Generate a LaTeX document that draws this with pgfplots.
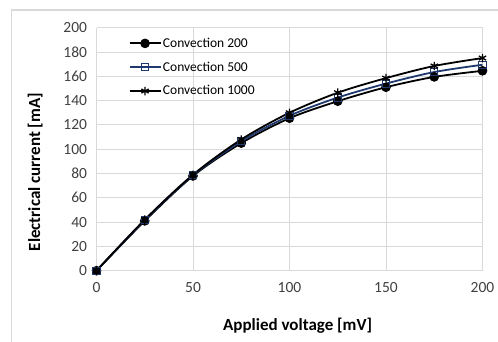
\documentclass[border=0pt]{standalone}
\usepackage{pgfplots}
\pgfplotsset{compat=1.18}
\usepackage{fontspec}
\setmainfont{Carlito}
\definecolor{gridgray}{RGB}{217,217,217}
\definecolor{navyline}{RGB}{31,56,110}
\definecolor{ticktext}{RGB}{64,64,64}
\begin{document}
\begin{tikzpicture}[x=1pt,y=1pt]
\useasboundingbox (0,0) rectangle (498,342);
\draw[gridgray, line width=1.2pt] (11.5,-2) -- (11.5,332) -- (500,332);
\begin{axis}[
  at={(96.5pt,71.3pt)}, anchor=south west,
  scale only axis, width=386pt, height=243pt,
  xmin=0, xmax=200, ymin=0, ymax=200,
  xtick={0,50,...,200}, ytick={0,20,...,200},
  grid=major,
  major grid style={gridgray, line width=0.8pt},
  axis line style={draw=none},
  tick style={draw=none},
  /pgf/number format/assume math mode=true,
  ticklabel style={font=\fontsize{15.5}{18}\selectfont, text=ticktext},
  xticklabel style={yshift=-8pt},
  yticklabel style={xshift=-6pt},
  xlabel={\textbf{Applied voltage [mV]}},
  ylabel={\textbf{Electrical current [mA]}},
  every axis x label/.style={at={(axis description cs:0.521,-0.228)}, anchor=center, font=\fontsize{17}{20}\selectfont},
  every axis y label/.style={at={(axis description cs:-0.159,0.406)}, anchor=center, rotate=90, font=\fontsize{17}{20}\selectfont},
  legend style={draw=none, fill=none, at={(0.075,0.975)}, anchor=north west,
    font=\fontsize{13.5}{16}\selectfont, row sep=9pt, cells={anchor=west},
    nodes={inner xsep=1.5pt}},
  legend image code/.code={\draw[mark repeat=2,mark phase=2, line width=1.8pt] plot coordinates {(0pt,0pt) (15.5pt,0pt) (31pt,0pt)};},
]
\addplot[black, line width=1.8pt, smooth, mark=*, mark size=4.4pt, mark options={fill=black, line width=0.8pt}]
  coordinates {(0,0) (25,41) (50,78) (75,105) (100,125.5) (125,139.5) (150,151) (175,159.5) (200,164.5)};
\addlegendentry{Convection 200}
\addplot[navyline, line width=1.8pt, smooth, mark=square, mark size=3.6pt, mark options={fill=white, line width=1.1pt, solid}]
  coordinates {(0,0) (25,41.5) (50,78.5) (75,106.5) (100,127.5) (125,142.5) (150,154) (175,163.5) (200,169.5)};
\addlegendentry{Convection 500}
\addplot[black, line width=1.8pt, smooth, mark=asterisk, mark size=4.2pt, mark options={line width=1.3pt}]
  coordinates {(0,0) (25,42) (50,79) (75,108) (100,130) (125,146.5) (150,158.5) (175,168.5) (200,175)};
\addlegendentry{Convection 1000}
\end{axis}
\end{tikzpicture}
\end{document}
